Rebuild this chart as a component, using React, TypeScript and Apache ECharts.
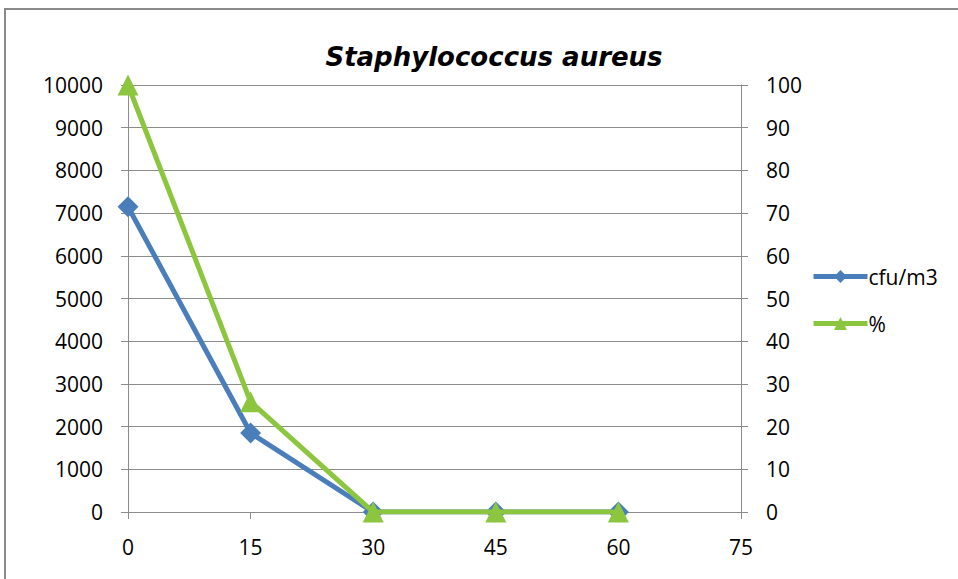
import React, { useEffect, useRef } from "react";
import * as echarts from "echarts";

const minutes = [0, 15, 30, 45, 60];
const cfuValues = [7150, 1850, 0, 0, 0];
const percentValues = [100, 25.8, 0, 0, 0];
const titleText = "Staphylococcus aureus";
const seriesNames = ["cfu/m3", "%"];

export default function App() {
  const ref = useRef<HTMLDivElement>(null);
  useEffect(() => {
    document.body.style.margin = "0";
    const chart = echarts.init(ref.current!, null, { renderer: "svg" });
    const font = "'Open Sans', Lato, sans-serif";
    const axisLine = { show: true, lineStyle: { color: "#8c8c8c", width: 1 } };
    const labelStyle = { fontSize: 21, color: "#000", fontFamily: font };
    chart.setOption({
      animation: false,
      backgroundColor: "#ffffff",
      textStyle: { fontFamily: font },
      graphic: [
        {
          type: "rect",
          shape: { x: 5, y: 9, width: 1000, height: 620 },
          style: { fill: "none", stroke: "#8a8a8a", lineWidth: 2 },
          z: 100,
        },
      ],
      title: {
        text: titleText,
        left: 489,
        textAlign: "center",
        top: 39,
        textStyle: { fontSize: 26, fontWeight: "bold", fontStyle: "italic", color: "#000", fontFamily: "'DejaVu Sans', sans-serif" },
      },
      legend: {
        orient: "vertical",
        left: 806,
        top: 261,
        itemWidth: 54,
        itemHeight: 16,
        itemGap: 26,
        lineStyle: { width: 5 },
        textStyle: { ...labelStyle, padding: [0, 0, 0, -4] },
        data: seriesNames,
      },
      grid: { left: 128, right: 217, top: 85, bottom: 67, containLabel: false },
      xAxis: {
        type: "value",
        min: 0,
        max: 75,
        interval: 15,
        axisLine,
        axisTick: { show: true, length: 7, lineStyle: { color: "#8c8c8c" } },
        axisLabel: { ...labelStyle, margin: 24 },
        splitLine: { show: false },
      },
      yAxis: [
        {
          type: "value",
          min: 0,
          max: 10000,
          interval: 1000,
          axisLine,
          axisTick: { show: true, length: 7, lineStyle: { color: "#8c8c8c" } },
          axisLabel: { ...labelStyle, margin: 25, formatter: (v: number) => String(v) },
          splitLine: { show: true, lineStyle: { color: "#8c8c8c", width: 1 } },
        },
        {
          type: "value",
          min: 0,
          max: 100,
          interval: 10,
          position: "right",
          axisLine,
          axisTick: { show: true, length: 7, lineStyle: { color: "#8c8c8c" } },
          axisLabel: { ...labelStyle, margin: 25 },
          splitLine: { show: false },
        },
      ],
      series: [
        {
          name: seriesNames[0],
          type: "line",
          yAxisIndex: 0,
          data: minutes.map((m, i) => [m, cfuValues[i]]),
          symbol: "diamond",
          symbolSize: 21,
          lineStyle: { color: "#4a7ebb", width: 5 },
          itemStyle: { color: "#4a7ebb" },
          z: 2,
        },
        {
          name: seriesNames[1],
          type: "line",
          yAxisIndex: 1,
          data: minutes.map((m, i) => [m, percentValues[i]]),
          symbol: "triangle",
          symbolSize: 21,
          lineStyle: { color: "#8cc63f", width: 5 },
          itemStyle: { color: "#8cc63f" },
          z: 3,
        },
      ],
    });
    return () => chart.dispose();
  }, []);
  return <div ref={ref} style={{ position: "fixed", left: 0, top: 0, width: 958, height: 579 }} />;
}
